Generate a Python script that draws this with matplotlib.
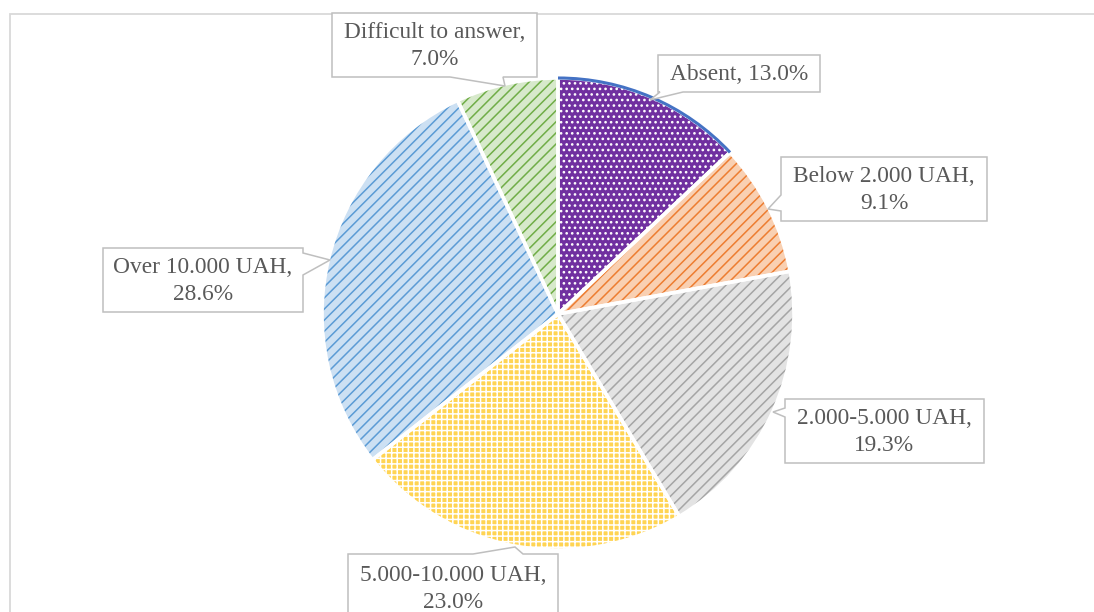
import matplotlib
matplotlib.use("Agg")
import matplotlib.pyplot as plt
from matplotlib.patches import Polygon, Arc

# Monthly income categories and their shares (%)
categories = ["Absent", "Below 2.000 UAH", "2.000-5.000 UAH",
              "5.000-10.000 UAH", "Over 10.000 UAH", "Difficult to answer"]
shares = [13.0, 9.1, 19.3, 23.0, 28.6, 7.0]
label_sep = [" ", "\n", "\n", "\n", "\n", "\n"]

# Fill styling: background colour, hatch colour, hatch pattern
bg_colors = ["#7030A0", "#F9D0B2", "#E3E3E3", "#FFD453", "#CCE0F3", "#D7E9CB"]
hatch_colors = ["#FFFFFF", "#ED7D31", "#A5A5A5", "#FFFFFF", "#5B9BD5", "#70AD47"]
hatches = ["...", "///", "///", "+++", "///", "///"]

W, H = 1094, 612
fig = plt.figure(figsize=(W / 100, H / 100), dpi=100)
ax = fig.add_axes([0, 0, 1, 1])
ax.set_xlim(0, W)
ax.set_ylim(H, 0)
ax.set_aspect("equal")
ax.axis("off")

plt.rcParams["hatch.linewidth"] = 1.1

# chart frame
ax.plot([10, 10, W + 5], [H + 5, 13.5, 13.5], color="#D9D9D9", lw=1.3,
        solid_joinstyle="miter", zorder=0)

center = (558, 314)
radius = 236
common = dict(startangle=-90, counterclock=True, center=center, radius=radius,
              frame=True)

# base fill
base, _ = ax.pie(shares, colors=bg_colors, wedgeprops=dict(linewidth=0), **common)
# hatch layer
hatch_w, _ = ax.pie(shares, colors=bg_colors, **common)
for w, hc, ht in zip(hatch_w, hatch_colors, hatches):
    w.set_facecolor("none")
    w.set_edgecolor(hc)
    w.set_linewidth(0)
    w.set_hatch(ht)
# white separators
sep_w, _ = ax.pie(shares, colors=bg_colors,
                  wedgeprops=dict(edgecolor="white", linewidth=2.6), **common)
for w in sep_w:
    w.set_facecolor("none")

# blue outline on the first slice's outer arc
t1 = -90
t2 = -90 + shares[0] / sum(shares) * 360
ax.add_patch(Arc(center, 2 * radius, 2 * radius, theta1=t1, theta2=t2,
                 color="#4472C4", lw=2.2, zorder=5))

ax.set_xlim(0, W)
ax.set_ylim(H, 0)
ax.axis("off")


def callout(box, side, base_pts, tip):
    x0, y0, x1, y1 = box
    a, b = base_pts
    if side == "top":
        pts = [(x0, y0), (a, y0), tip, (b, y0), (x1, y0), (x1, y1), (x0, y1)]
    elif side == "right":
        pts = [(x0, y0), (x1, y0), (x1, a), tip, (x1, b), (x1, y1), (x0, y1)]
    elif side == "bottom":
        pts = [(x0, y0), (x1, y0), (x1, y1), (b, y1), tip, (a, y1), (x0, y1)]
    else:
        pts = [(x0, y0), (x1, y0), (x1, y1), (x0, y1), (x0, b), tip, (x0, a)]
    ax.add_patch(Polygon(pts, closed=True, facecolor="white",
                         edgecolor="#BFBFBF", lw=1.1, zorder=6))


# label boxes: box, pointer side, pointer base, pointer tip, text centre
layout = [
    ((658, 55, 820, 92), "bottom", (660, 683), (650, 100), (739, 74)),
    ((781, 157, 987, 221), "left", (195, 211), (768, 209), (884, 190)),
    ((785, 399, 984, 463), "left", (408, 417), (773, 412), (884, 432)),
    ((348, 554, 558, 630), "top", (473, 523), (515, 547), (453, 589)),
    ((103, 248, 303, 312), "right", (253, 275), (330, 260), (203, 281)),
    ((332, 13, 537, 77), "bottom", (450, 503), (505, 86), (435, 46)),
]

for cat, val, sep, (box, side, bp, tip, tc) in zip(categories, shares,
                                                   label_sep, layout):
    callout(box, side, bp, tip)
    ax.text(tc[0], tc[1], f"{cat},{sep}{val:.1f}%", ha="center", va="center",
            fontsize=16.8, family="Liberation Serif", color="#595959",
            linespacing=1.38, zorder=7)

fig.savefig("out.png", dpi=100)
